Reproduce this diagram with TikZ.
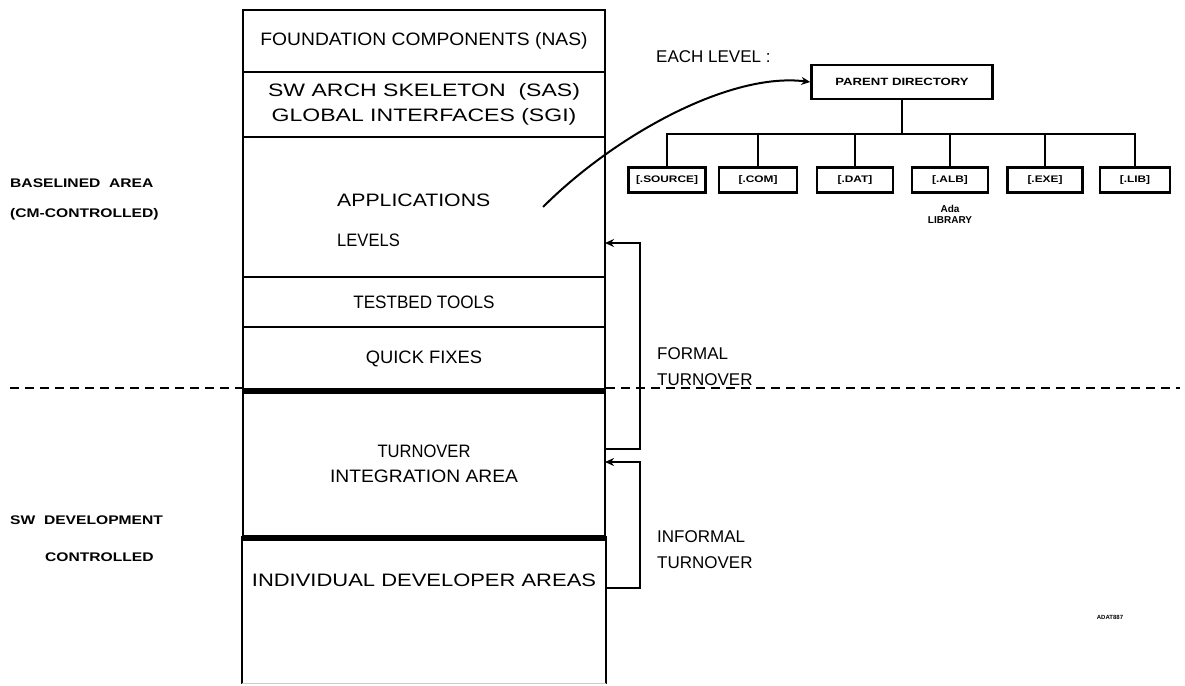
\documentclass[tikz,border=0pt]{standalone}
\usepackage{fontspec}
\usepackage{graphicx}
\setmainfont{Liberation Sans}
\newfontfamily\sidefont[FakeStretch=1.25]{Liberation Sans}
\usetikzlibrary{positioning,arrows.meta}

% horizontal stretch of a label, to follow the widths of the lettering
\newcommand{\wide}[2]{\scalebox{#1}[1]{#2}}

\begin{document}
\begin{tikzpicture}[x=1pt, y=-1pt,
    section/.style={rectangle, draw, line width=1.6pt, minimum width=362pt, inner sep=0pt, font=\fontsize{18}{25}\selectfont, align=center},
    plain/.style={font=\fontsize{17}{26}\selectfont, anchor=west, inner sep=0pt, align=left},
    sidelabel/.style={font=\sidefont\fontsize{12.5}{15}\selectfont\bfseries, anchor=west, inner sep=0pt},
    dirbox/.style={rectangle, draw, line width=2.4pt, minimum width=74pt, minimum height=25pt, inner sep=1pt, font=\sidefont\fontsize{9.5}{10}\selectfont\bfseries},
    arrow/.style={-{Stealth[length=9pt,width=8pt]}, line width=2pt},
    divider/.style={line width=6pt},
    dashline/.style={line width=1.8pt, dash pattern=on 9pt off 6pt},
    tree/.style={line width=2pt}
]
\useasboundingbox (0,0) rectangle (1185,685);

% Column of areas
\node[section, minimum height=62pt] (nas) at (424,41) {\wide{1.07}{FOUNDATION COMPONENTS (NAS)}};
\node[section, minimum height=65pt] (sas) at (424,104.5) {\wide{1.28}{SW ARCH SKELETON\ \ (SAS)}\\\wide{1.28}{GLOBAL INTERFACES (SGI)}};
\node[section, minimum height=140pt] (apps) at (424,207) {};
\node[plain, font=\fontsize{18}{25}\selectfont] (appsA) at (337,200) {\wide{1.18}{APPLICATIONS}};
\node[plain, font=\fontsize{18}{25}\selectfont] (appsB) at (337,240) {\wide{0.92}{LEVELS}};
\node[section, minimum height=50pt] (tools) at (424,302) {\wide{0.95}{TESTBED TOOLS}};
\node[section, minimum height=63pt] (fixes) at (424,358.5) {\wide{1.02}{QUICK FIXES}};
\node[section, minimum height=147pt] (integ) at (424,463.5) {\wide{0.92}{TURNOVER}\\\wide{1.07}{INTEGRATION AREA}};
\node[section, draw=none, minimum height=146pt] (devel) at (424,610) {};
\node[font=\fontsize{18}{25}\selectfont] (develText) at (424,580) {\wide{1.22}{INDIVIDUAL DEVELOPER AREAS}};
\draw[line width=1.6pt] (devel.north west) -- (devel.south west);
\draw[line width=1.6pt] (devel.north east) -- (devel.south east);
\draw[black!20, line width=1pt] (devel.south west) -- (devel.south east);

% Thick dividers
\draw[divider] (fixes.south west) -- (fixes.south east);
\draw[divider] (integ.south west) -- (integ.south east);

% Dashed boundary
\coordinate (dashL) at (10,388);
\coordinate (dashR) at (1180,388);
\draw[dashline] (dashL) -- (dashL -| fixes.west);
\draw[dashline] (dashL -| fixes.east) -- (dashR);

% Side labels
\node[sidelabel] (base1) at (10,183) {BASELINED\ \ AREA};
\node[sidelabel] (base2) at (10,214) {(CM-CONTROLLED)};
\node[sidelabel] (dev1) at (10,520) {SW\ \ DEVELOPMENT};
\node[sidelabel] (dev2) at (45,557) {CONTROLLED};

% Turnover arrows
\coordinate (formalFrom) at (605,449);
\coordinate (formalTo) at (605,243);
\coordinate (informalFrom) at (605,588);
\coordinate (informalTo) at (605,462);
\draw[arrow] (formalFrom) -- ++(35,0) |- (formalTo);
\draw[arrow] (informalFrom) -- ++(35,0) |- (informalTo);
\node[plain] (formal) at (657,367) {FORMAL\\TURNOVER};
\node[plain] (informal) at (657,550) {INFORMAL\\TURNOVER};

% Directory tree
\node[plain] (each) at (656,57) {EACH LEVEL :};
\node[dirbox, minimum width=181pt, minimum height=34pt, font=\sidefont\fontsize{10.5}{12}\selectfont\bfseries] (parent) at (902,82) {PARENT DIRECTORY};
\node[dirbox, minimum width=77pt] (source) at (667,180) {[.SOURCE]};
\node[dirbox, minimum width=78pt] (com) at (758,180) {[.COM]};
\node[dirbox, minimum width=76pt] (dat) at (855,180) {[.DAT]};
\node[dirbox, minimum width=76pt] (alb) at (950,180) {[.ALB]};
\node[dirbox, minimum width=75pt] (exe) at (1045,180) {[.EXE]};
\node[dirbox, minimum width=70pt] (lib) at (1135,180) {[.LIB]};
\node[font=\fontsize{10}{11}\selectfont\bfseries, align=center, below=11pt of alb, inner sep=0pt] (adalib) {Ada\\LIBRARY};

\coordinate (bus) at (902,134);
\draw[tree] (parent) -- (bus);
\draw[tree] (source.north) -- (source.north |- bus) -- (lib.north |- bus) -- (lib.north);
\draw[tree] (com.north) -- (com.north |- bus);
\draw[tree] (dat.north) -- (dat.north |- bus);
\draw[tree] (alb.north) -- (alb.north |- bus);
\draw[tree] (exe.north) -- (exe.north |- bus);

% Link from applications to the directory
\coordinate (appsPoint) at (543,207);
\draw[arrow] (appsPoint) .. controls (615,135) and (730,72) .. (parent.west);

% Figure code
\node[font=\fontsize{6}{7}\selectfont\bfseries] (code) at (1110,617) {ADAT887};

\end{tikzpicture}
\end{document}
